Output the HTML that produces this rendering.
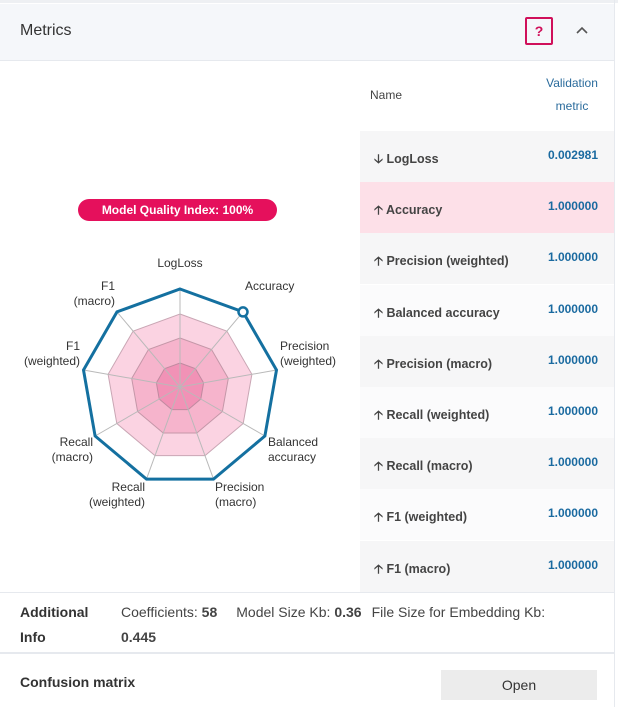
<!DOCTYPE html>
<html><head><meta charset="utf-8"><style>
body{margin:0;width:618px;height:707px;background:#fff;font-family:"Liberation Sans",sans-serif;position:relative;overflow:hidden;color:#333}
.a{position:absolute}
.hdr{left:0;top:4px;width:614px;height:56px;background:#f5f7fa;border-bottom:1px solid #e6e9ee}
.row{position:absolute;left:360px;width:254px;height:51px;font-size:12.5px;font-weight:bold;color:#444}
.row .n{position:absolute;left:14px;top:19px}
.row .v{position:absolute;right:16px;top:17px;color:#1a6aa0;font-size:12px}
</style></head><body>
<div class="a" style="left:0;top:0;width:618px;height:3px;background:#eef0f3"></div>
<div class="a" style="left:614px;top:0;width:1px;height:707px;background:#e6e9ee"></div>
<div class="a hdr"></div>
<div class="a" style="left:20px;top:22px;font-size:16px;color:#333">Metrics</div>
<div class="a" style="left:525px;top:17px;width:24px;height:24px;border:2px solid #d0105a;border-radius:2px;color:#d0105a;font-weight:bold;font-size:14px;text-align:center;line-height:24px">?</div>
<svg class="a" style="left:575px;top:25px" width="14" height="10"><polyline points="2,8 7,3 12,8" fill="none" stroke="#555" stroke-width="1.6"/></svg>

<div class="a" style="left:370px;top:88px;font-size:12px;color:#444">Name</div>
<div class="a" style="left:530px;top:72px;width:84px;text-align:center;font-size:12px;color:#2a6b9c;line-height:23px">Validation<br>metric</div>

<div class="row" style="top:131px;background:#f6f6f7"><span class="n">&#129123; LogLoss</span><span class="v">0.002981</span></div>
<div class="row" style="top:182px;background:#fde0e8"><span class="n">&#129121; Accuracy</span><span class="v">1.000000</span></div>
<div class="row" style="top:233px;background:#f6f6f7"><span class="n">&#129121; Precision (weighted)</span><span class="v">1.000000</span></div>
<div class="row" style="top:285px;background:#fbfbfc"><span class="n">&#129121; Balanced accuracy</span><span class="v">1.000000</span></div>
<div class="row" style="top:336px;background:#f6f6f7"><span class="n">&#129121; Precision (macro)</span><span class="v">1.000000</span></div>
<div class="row" style="top:387px;background:#fbfbfc"><span class="n">&#129121; Recall (weighted)</span><span class="v">1.000000</span></div>
<div class="row" style="top:438px;background:#f6f6f7"><span class="n">&#129121; Recall (macro)</span><span class="v">1.000000</span></div>
<div class="row" style="top:489px;background:#fbfbfc"><span class="n">&#129121; F1 (weighted)</span><span class="v">1.000000</span></div>
<div class="row" style="top:541px;background:#f6f6f7"><span class="n">&#129121; F1 (macro)</span><span class="v">1.000000</span></div>

<div class="a" style="left:78px;top:199px;width:199px;height:22px;border-radius:11px;background:#e5105c;color:#fff;font-weight:bold;font-size:12px;text-align:center;line-height:22px">Model Quality Index: 100%</div>

<svg class="a" style="left:0;top:0" width="618" height="707">
<g id="radar"></g>
</svg>
<script>
var cx=180,cy=387,g=document.getElementById('radar'),s='';
function poly(r){var p=[];for(var k=0;k<9;k++){var a=k*40*Math.PI/180;p.push((cx+r*Math.sin(a)).toFixed(1)+','+(cy-r*Math.cos(a)).toFixed(1));}return p.join(' ');}
s+='<polygon points="'+poly(73)+'" fill="#fbd3e2" stroke="#c9a6b4" stroke-width="1"/>';
s+='<polygon points="'+poly(49)+'" fill="#f6b4cc" stroke="#c497a8" stroke-width="1"/>';
s+='<polygon points="'+poly(24)+'" fill="#f192b6" stroke="#c08aa0" stroke-width="1"/>';
for(var k=0;k<9;k++){var a=k*40*Math.PI/180;s+='<line x1="'+cx+'" y1="'+cy+'" x2="'+(cx+98*Math.sin(a))+'" y2="'+(cy-98*Math.cos(a))+'" stroke="#b9b9b9" stroke-width="1"/>';}
s+='<polygon points="'+poly(98)+'" fill="none" stroke="#1470a0" stroke-width="3"/>';
s+='<circle cx="'+(cx+98*Math.sin(40*Math.PI/180))+'" cy="'+(cy-98*Math.cos(40*Math.PI/180))+'" r="4.5" fill="#fff" stroke="#1470a0" stroke-width="2.5"/>';
var L=[[180,267,'middle',['LogLoss']],[245,290,'start',['Accuracy']],[280,350,'start',['Precision','(weighted)']],[268,446,'start',['Balanced','accuracy']],[215,491,'start',['Precision','(macro)']],[145,491,'end',['Recall','(weighted)']],[93,446,'end',['Recall','(macro)']],[80,350,'end',['F1','(weighted)']],[115,290,'end',['F1','(macro)']]];
L.forEach(function(l){l[3].forEach(function(t,i){s+='<text x="'+l[0]+'" y="'+(l[1]+i*15)+'" text-anchor="'+l[2]+'" font-size="12" fill="#333" font-family="Liberation Sans,sans-serif">'+t+'</text>';});});
g.innerHTML=s;
</script>

<div class="a" style="left:0;top:592px;width:614px;height:1px;background:#e6e9ee"></div>
<div class="a" style="left:20px;top:600px;font-size:14px;font-weight:bold;line-height:25px;color:#333">Additional<br>Info</div>
<div class="a" style="left:121px;top:600px;width:490px;font-size:14px;line-height:25px;color:#444;white-space:nowrap">Coefficients: <b>58</b><span style="margin-left:19px">Model Size Kb: <b>0.36</b></span><span style="margin-left:10px">File Size for Embedding Kb:</span><br><b>0.445</b></div>
<div class="a" style="left:0;top:652px;width:614px;height:2px;background:#e6e9ee"></div>
<div class="a" style="left:20px;top:674px;font-size:14px;font-weight:bold;color:#333">Confusion matrix</div>
<div class="a" style="left:441px;top:670px;width:156px;height:30px;background:#ececec;font-size:14px;text-align:center;line-height:30px;color:#333">Open</div>
</body></html>
